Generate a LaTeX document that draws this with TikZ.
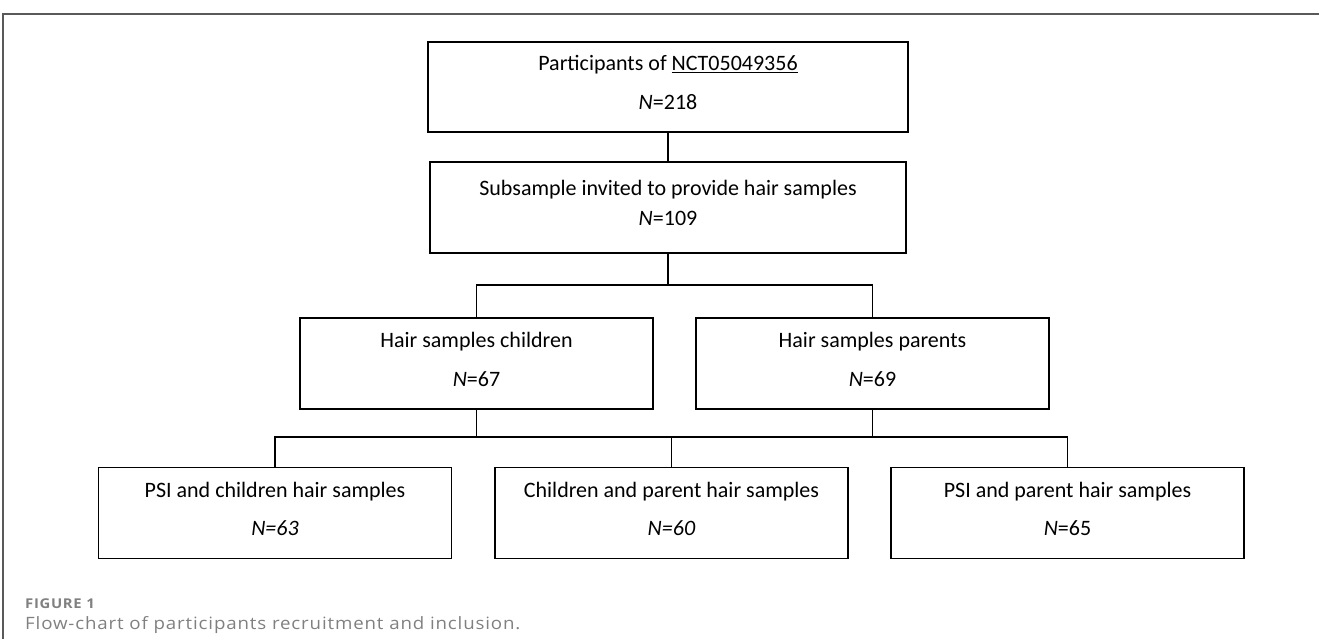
\documentclass[tikz,border=0pt]{standalone}
\usepackage{fontspec}
\setmainfont{Carlito}
\newfontfamily\capfont[FakeStretch=1.1,LetterSpace=5]{Open Sans}
\usetikzlibrary{positioning}
\newcommand\lowpad{\rule[-9pt]{0pt}{9pt}}
\tikzset{
  box/.style={draw, line width=1.6pt, minimum width=353pt, minimum height=91pt,
    align=center, font=\fontsize{22}{27}\selectfont, inner sep=0pt},
  link/.style={line width=1.3pt}
}

\begin{document}
\begin{tikzpicture}[x=1pt,y=-1pt]
			%%%%% START %%%%%
			\useasboundingbox (0,0) rectangle (1319,639);
			\draw[black!65, line width=1.4pt] (3,639) -- (3,14) -- (1319,14);
			
			\node[box, minimum width=480pt, minimum height=90pt] (part) at (668,87)
			  {Participants of \underline{NCT05049356}\\[12pt]\textit{N}=218\lowpad};
			\node[box, minimum width=476pt] (sub) at (668,207.5)
			  {Subsample invited to provide hair samples\\[3pt]\textit{N}=109\lowpad};
			
			\node[box] (child) at (476.5,363.5) {Hair samples children\\[12pt]\textit{N}=67\lowpad};
			\node[box] (parent) at (872.5,363.5) {Hair samples parents\\[12pt]\textit{N}=69\lowpad};
			
			\node[box] (psic) at (275,513) {PSI and children hair samples\\[11pt]\textit{N=63}\lowpad};
			\node[box] (cp) at (671.5,513) {Children and parent hair samples\\[11pt]\textit{N=60}\lowpad};
			\node[box] (psip) at (1067.5,513) {PSI and parent hair samples\\[11pt]\textit{N}=65\lowpad};
			
			\coordinate (split) at (668,285);
			\coordinate (merge) at (671.5,437);
			
			\draw[link] (part) -- (sub);
			\draw[link, line width=1.8pt] (sub) -- (split);
			\draw[link] (child.north) |- (split);
			\draw[link] (parent.north) |- (split);
			
			\draw[link] (child.south) |- (merge);
			\draw[link] (parent.south) |- (merge);
			\draw[link] (psic.north) |- (merge);
			\draw[link] (psip.north) |- (merge);
			\draw[link] (cp.north) -- (merge);
			
			\node[anchor=base west, inner sep=0pt, text=black!50, font=\capfont\fontsize{13.5}{15}\selectfont\bfseries] (fig) at (25,608) {FIGURE 1};
			\node[anchor=base west, inner sep=0pt, text=black!50, font=\capfont\fontsize{17}{20}\selectfont] (cap) at (25,629)
			  {Flow-chart of participants recruitment and inclusion.};
			%%%%% END %%%%%
		\end{tikzpicture}
\end{document}
